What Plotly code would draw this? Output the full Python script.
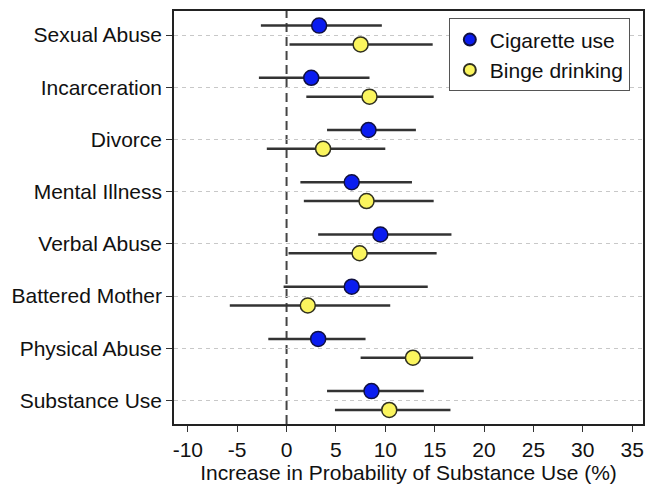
import plotly.graph_objects as go

categories = ["Sexual Abuse", "Incarceration", "Divorce", "Mental Illness",
              "Verbal Abuse", "Battered Mother", "Physical Abuse", "Substance Use"]

cig_est = [3.3, 2.5, 8.3, 6.6, 9.5, 6.6, 3.2, 8.6]
cig_lo = [-2.6, -2.8, 4.1, 1.4, 3.2, -0.3, -1.85, 4.1]
cig_hi = [9.65, 8.4, 13.1, 12.7, 16.7, 14.3, 8.0, 13.9]

binge_est = [7.5, 8.4, 3.7, 8.1, 7.4, 2.15, 12.8, 10.4]
binge_lo = [0.3, 2.0, -2.0, 1.75, 0.2, -5.75, 7.5, 4.9]
binge_hi = [14.8, 14.9, 10.0, 14.9, 15.2, 10.5, 18.9, 16.6]

x_ticks = [-10, -5, 0, 5, 10, 15, 20, 25, 30, 35]
x_tick_labels = ["-10", "-5", "0", "5", "10", "15", "20", "25", "30", "35"]

OFF = 0.18
pos = list(range(len(categories)))

fig = go.Figure()

def add_series(name, est, lo, hi, color, outline, shift):
    fig.add_trace(go.Scatter(
        x=est,
        y=[p + shift for p in pos],
        mode="markers",
        name=name,
        marker=dict(size=15, color=color, line=dict(color=outline, width=1.5)),
        error_x=dict(type="data", symmetric=False,
                     array=[h - e for h, e in zip(hi, est)],
                     arrayminus=[e - l for e, l in zip(est, lo)],
                     color="#333333", thickness=2.5, width=0),
    ))

add_series("Cigarette use", cig_est, cig_lo, cig_hi, "#0a1cf0", "#101040", -OFF)
add_series("Binge drinking", binge_est, binge_lo, binge_hi, "#fbf55e", "#303020", OFF)

fig.add_vline(x=0, line=dict(color="#444444", width=2, dash="9px,5px"), layer="below")

FS = 21
fig.update_layout(
    width=648, height=485,
    margin=dict(l=174, r=3, t=11, b=61),
    paper_bgcolor="white", plot_bgcolor="white",
    font=dict(family="Liberation Sans, Arial, sans-serif", color="#111111"),
    showlegend=True,
    legend=dict(x=0.586, y=0.982, xanchor="left", yanchor="top",
                bgcolor="white", bordercolor="#555555", borderwidth=1,
                font=dict(size=FS), itemsizing="constant",
                tracegroupgap=0, entrywidth=160),
    xaxis=dict(range=[-11.4, 36.1], tickvals=x_ticks, ticktext=x_tick_labels,
               ticks="outside", ticklen=6,
               tickcolor="#333333", showgrid=False, zeroline=False,
               showline=True, linecolor="#222222", linewidth=1.5, mirror=True,
               tickfont=dict(size=FS),
               title=dict(text="Increase in Probability of Substance Use (%)",
                          font=dict(size=FS), standoff=2)),
    yaxis=dict(range=[7.45, -0.46], tickvals=pos, ticktext=categories,
               ticks="outside", ticklen=6, tickcolor="#333333",
               showgrid=True, gridcolor="#c8c8c8", griddash="4px,4px", gridwidth=1,
               zeroline=False, showline=True, linecolor="#222222", linewidth=1.5,
               mirror=True, tickfont=dict(size=FS)),
)

fig.write_html("out.html", config={"displayModeBar": False},
               post_script="document.body.style.margin='0';")
